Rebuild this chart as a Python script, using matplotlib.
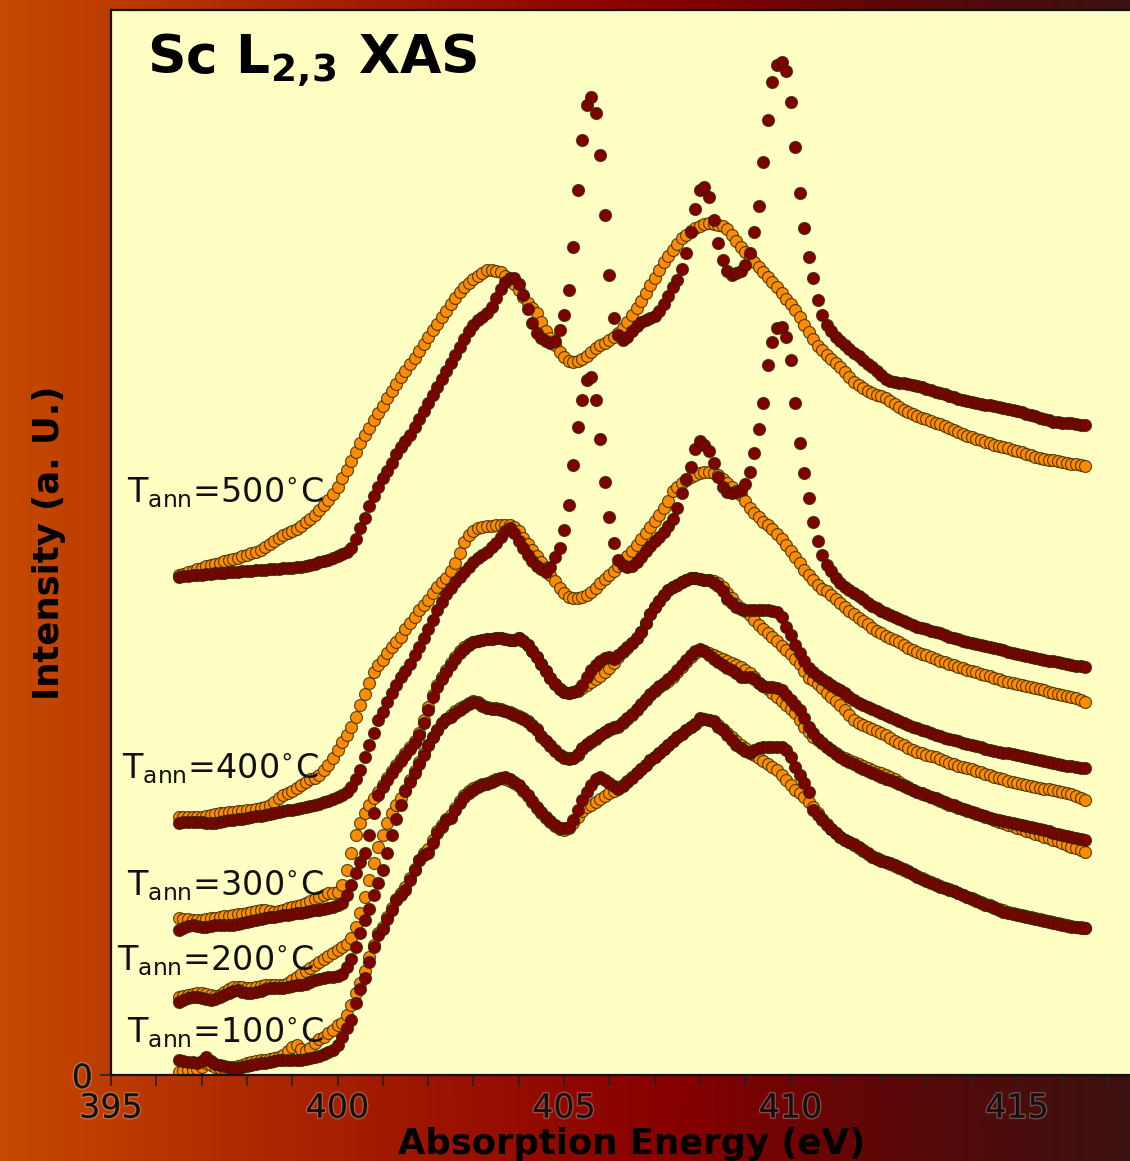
import numpy as np
import matplotlib
matplotlib.use("Agg")
import matplotlib.pyplot as plt
import matplotlib.patheffects as pe
from matplotlib.colors import LinearSegmentedColormap
from matplotlib.ticker import MultipleLocator, FixedLocator

plt.rcParams['mathtext.fontset'] = 'dejavusans'

# energy grid of the scans (eV)
energy = [
    396.5, 396.6, 396.7, 396.8, 396.9, 397.0, 397.1, 397.2, 397.3, 397.4,
    397.5, 397.6, 397.7, 397.8, 397.9, 398.0, 398.1, 398.2, 398.3, 398.4,
    398.5, 398.6, 398.7, 398.8, 398.9, 399.0, 399.1, 399.2, 399.3, 399.4,
    399.5, 399.6, 399.7, 399.8, 399.9, 400.0, 400.1, 400.2, 400.3, 400.4,
    400.5, 400.6, 400.7, 400.8, 400.9, 401.0, 401.1, 401.2, 401.3, 401.4,
    401.5, 401.6, 401.7, 401.8, 401.9, 402.0, 402.1, 402.2, 402.3, 402.4,
    402.5, 402.6, 402.7, 402.8, 402.9, 403.0, 403.1, 403.2, 403.3, 403.4,
    403.5, 403.6, 403.7, 403.8, 403.9, 404.0, 404.1, 404.2, 404.3, 404.4,
    404.5, 404.6, 404.7, 404.8, 404.9, 405.0, 405.1, 405.2, 405.3, 405.4,
    405.5, 405.6, 405.7, 405.8, 405.9, 406.0, 406.1, 406.2, 406.3, 406.4,
    406.5, 406.6, 406.7, 406.8, 406.9, 407.0, 407.1, 407.2, 407.3, 407.4,
    407.5, 407.6, 407.7, 407.8, 407.9, 408.0, 408.1, 408.2, 408.3, 408.4,
    408.5, 408.6, 408.7, 408.8, 408.9, 409.0, 409.1, 409.2, 409.3, 409.4,
    409.5, 409.6, 409.7, 409.8, 409.9, 410.0, 410.1, 410.2, 410.3, 410.4,
    410.5, 410.6, 410.7, 410.8, 410.9, 411.0, 411.1, 411.2, 411.3, 411.4,
    411.5, 411.6, 411.7, 411.8, 411.9, 412.0, 412.1, 412.2, 412.3, 412.4,
    412.5, 412.6, 412.7, 412.8, 412.9, 413.0, 413.1, 413.2, 413.3, 413.4,
    413.5, 413.6, 413.7, 413.8, 413.9, 414.0, 414.1, 414.2, 414.3, 414.4,
    414.5, 414.6, 414.7, 414.8, 414.9, 415.0, 415.1, 415.2, 415.3, 415.4,
    415.5, 415.6, 415.7, 415.8, 415.9, 416.0, 416.1, 416.2, 416.3, 416.4,
    416.5]

# intensities (a.u., already stacked with their offsets)
# T_ann = 500 C
o500 = [
    500, 501, 503, 504, 506, 507, 509, 510, 511, 512,
    514, 515, 516, 517, 519, 520, 522, 523, 525, 528,
    531, 534, 537, 540, 542, 544, 546, 549, 553, 556,
    560, 565, 570, 575, 581, 588, 597, 605, 614, 623,
    632, 640, 647, 655, 662, 669, 677, 684, 691, 698,
    704, 711, 717, 724, 731, 738, 745, 751, 758, 764,
    771, 777, 783, 788, 792, 796, 799, 802, 805, 805,
    804, 803, 799, 795, 791, 785, 778, 772, 767, 762,
    753, 744, 737, 730, 723, 718, 714, 713, 714, 716,
    719, 723, 727, 730, 732, 735, 738, 742, 747, 753,
    760, 767, 774, 782, 790, 797, 805, 813, 819, 825,
    831, 837, 840, 844, 847, 849, 851, 852, 851, 850,
    849, 846, 840, 834, 828, 823, 818, 813, 808, 803,
    798, 793, 788, 782, 776, 771, 765, 758, 750, 743,
    736, 729, 725, 720, 716, 712, 708, 703, 698, 693,
    690, 687, 684, 682, 680, 679, 677, 674, 671, 668,
    665, 663, 661, 659, 657, 656, 654, 652, 651, 649,
    647, 645, 643, 641, 639, 638, 636, 635, 633, 632,
    630, 629, 628, 627, 625, 624, 623, 621, 620, 618,
    617, 616, 615, 615, 614, 613, 612, 611, 611, 610,
    609]
d500 = [
    498, 499, 499, 500, 500, 500, 501, 501, 502, 502,
    502, 503, 503, 503, 504, 504, 504, 505, 505, 505,
    506, 506, 506, 507, 507, 507, 508, 508, 509, 510,
    511, 513, 514, 515, 517, 519, 521, 523, 527, 536,
    547, 557, 569, 579, 588, 597, 604, 612, 621, 628,
    634, 640, 648, 656, 664, 672, 680, 688, 696, 704,
    712, 720, 728, 736, 744, 750, 755, 758, 762, 768,
    777, 786, 793, 797, 797, 791, 780, 766, 752, 742,
    737, 734, 732, 734, 745, 760, 785, 828, 885, 935,
    970, 978, 962, 920, 860, 800, 757, 740, 735, 738,
    744, 749, 753, 755, 757, 759, 764, 771, 779, 788,
    795, 806, 822, 843, 866, 885, 888, 878, 855, 832,
    815, 804, 800, 802, 804, 810, 822, 843, 869, 913,
    955, 993, 1010, 1013, 1004, 973, 928, 882, 847, 818,
    797, 775, 760, 750, 744, 738, 734, 730, 726, 722,
    719, 715, 711, 708, 704, 700, 696, 694, 693, 692,
    692, 691, 690, 689, 688, 686, 685, 683, 682, 681,
    679, 678, 676, 675, 674, 673, 672, 671, 670, 670,
    669, 668, 667, 666, 665, 664, 663, 661, 660, 659,
    657, 656, 655, 653, 653, 652, 652, 652, 651, 650,
    650]

# T_ann = 400 C
o400 = [
    258, 258, 258, 258, 258, 258, 259, 260, 261, 262,
    262, 263, 263, 264, 264, 265, 265, 266, 267, 268,
    270, 273, 277, 280, 282, 284, 287, 290, 293, 296,
    297, 300, 305, 310, 317, 325, 333, 340, 348, 358,
    370, 381, 392, 403, 410, 415, 422, 428, 433, 438,
    446, 452, 458, 465, 470, 475, 482, 488, 493, 497,
    504, 512, 522, 533, 540, 544, 547, 548, 549, 549,
    550, 550, 550, 550, 548, 544, 537, 531, 525, 519,
    513, 507, 500, 494, 487, 482, 478, 477, 477, 478,
    480, 483, 487, 492, 496, 500, 504, 509, 515, 519,
    524, 530, 536, 542, 548, 554, 560, 567, 574, 584,
    588, 592, 595, 598, 600, 602, 603, 603, 602, 600,
    596, 592, 588, 584, 580, 574, 567, 562, 558, 553,
    550, 546, 541, 536, 530, 524, 518, 512, 505, 500,
    495, 490, 486, 484, 480, 476, 472, 468, 464, 461,
    457, 454, 451, 447, 444, 442, 439, 437, 435, 433,
    430, 427, 425, 423, 421, 420, 418, 416, 414, 413,
    411, 410, 408, 407, 405, 404, 403, 401, 400, 399,
    397, 396, 394, 393, 392, 391, 390, 389, 388, 387,
    386, 385, 383, 382, 381, 380, 379, 378, 377, 375,
    373]
d400 = [
    252, 253, 253, 253, 253, 253, 252, 252, 252, 253,
    254, 255, 255, 256, 256, 257, 258, 259, 259, 260,
    261, 262, 263, 264, 265, 265, 266, 267, 268, 269,
    270, 271, 273, 274, 276, 278, 280, 283, 288, 296,
    305, 318, 330, 342, 355, 363, 373, 382, 390, 398,
    404, 411, 420, 428, 437, 446, 455, 465, 473, 481,
    487, 493, 498, 503, 508, 513, 517, 520, 523, 528,
    532, 538, 544, 547, 542, 534, 527, 520, 514, 509,
    506, 503, 508, 518, 527, 545, 570, 610, 648, 675,
    695, 698, 675, 636, 593, 558, 532, 515, 510, 508,
    509, 513, 518, 524, 529, 534, 538, 543, 549, 556,
    567, 582, 596, 608, 626, 634, 630, 624, 612, 598,
    588, 583, 582, 583, 585, 591, 603, 622, 646, 672,
    710, 733, 747, 748, 738, 715, 672, 632, 602, 577,
    553, 534, 520, 510, 504, 497, 492, 488, 485, 482,
    479, 476, 472, 469, 467, 464, 462, 460, 458, 456,
    454, 452, 450, 448, 447, 446, 444, 443, 442, 440,
    438, 437, 436, 434, 433, 432, 431, 430, 429, 428,
    427, 426, 425, 423, 422, 421, 420, 419, 418, 417,
    416, 415, 414, 414, 413, 412, 411, 410, 409, 409,
    408]

# T_ann = 300 C
o300 = [
    157, 156, 156, 155, 155, 155, 156, 157, 157, 158,
    159, 159, 160, 161, 161, 162, 163, 164, 165, 165,
    164, 163, 164, 165, 167, 168, 169, 170, 172, 174,
    176, 178, 180, 182, 182, 183, 190, 205, 222, 240,
    252, 262, 270, 277, 283, 290, 297, 304, 310, 316,
    322, 328, 334, 342, 355, 368, 380, 390, 398, 405,
    412, 418, 424, 428, 431, 433, 434, 435, 436, 436,
    437, 437, 436, 435, 435, 437, 434, 430, 424, 418,
    411, 404, 397, 391, 386, 383, 382, 383, 384, 387,
    390, 393, 396, 399, 403, 407, 412, 418, 423, 427,
    432, 437, 443, 452, 461, 468, 474, 480, 485, 488,
    490, 493, 495, 497, 497, 496, 495, 495, 494, 492,
    488, 482, 477, 471, 467, 464, 460, 455, 450, 446,
    442, 438, 434, 429, 425, 421, 416, 411, 404, 397,
    395, 391, 387, 382, 378, 374, 370, 365, 360, 355,
    352, 350, 348, 346, 344, 342, 340, 337, 334, 332,
    330, 327, 325, 323, 322, 320, 319, 318, 316, 314,
    312, 311, 309, 308, 307, 306, 304, 303, 301, 300,
    298, 297, 296, 294, 293, 292, 291, 290, 289, 288,
    287, 286, 286, 285, 284, 283, 282, 281, 279, 277,
    275]
d300 = [
    145, 147, 149, 150, 149, 148, 148, 149, 150, 150,
    150, 150, 150, 151, 152, 153, 154, 155, 156, 157,
    158, 158, 159, 160, 160, 161, 162, 162, 163, 164,
    165, 165, 166, 167, 168, 170, 172, 180, 190, 202,
    213, 222, 240, 262, 280, 288, 295, 302, 308, 314,
    320, 326, 332, 340, 352, 365, 378, 388, 396, 403,
    410, 416, 422, 426, 430, 433, 434, 435, 436, 436,
    437, 437, 436, 435, 435, 437, 434, 430, 424, 418,
    411, 404, 397, 391, 386, 383, 382, 383, 385, 390,
    398, 405, 410, 414, 417, 418, 416, 420, 424, 428,
    432, 437, 443, 452, 461, 468, 474, 480, 485, 488,
    490, 493, 495, 497, 497, 496, 495, 495, 492, 489,
    484, 476, 472, 468, 466, 465, 465, 465, 465, 465,
    465, 464, 463, 458, 448, 440, 430, 422, 414, 407,
    403, 399, 396, 393, 390, 387, 385, 382, 378, 375,
    372, 370, 368, 366, 364, 362, 360, 358, 356, 354,
    352, 350, 348, 347, 345, 344, 342, 340, 339, 337,
    336, 335, 334, 332, 331, 330, 329, 328, 326, 325,
    324, 323, 322, 322, 321, 320, 319, 318, 317, 316,
    315, 314, 313, 312, 311, 310, 309, 309, 308, 307,
    307]

# T_ann = 200 C
o200 = [
    78, 79, 80, 81, 82, 82, 81, 80, 79, 80,
    83, 86, 88, 88, 88, 87, 87, 88, 89, 90,
    90, 90, 90, 90, 92, 95, 98, 101, 104, 107,
    110, 113, 116, 119, 122, 125, 128, 131, 137, 148,
    162, 178, 195, 212, 228, 240, 252, 262, 270, 277,
    285, 295, 304, 313, 322, 330, 338, 345, 352, 356,
    360, 364, 367, 369, 372, 374, 373, 370, 368, 367,
    367, 366, 364, 363, 361, 359, 357, 354, 350, 346,
    338, 334, 330, 325, 320, 318, 317, 317, 320, 326,
    330, 333, 336, 340, 343, 345, 347, 348, 352, 356,
    360, 365, 370, 375, 380, 384, 388, 391, 394, 398,
    403, 408, 413, 418, 422, 425, 424, 422, 420, 418,
    416, 414, 412, 410, 408, 405, 402, 398, 392, 389,
    386, 382, 378, 374, 370, 366, 362, 355, 348, 343,
    338, 335, 332, 328, 325, 322, 319, 317, 315, 313,
    311, 309, 307, 305, 303, 302, 300, 298, 296, 293,
    290, 288, 285, 283, 281, 280, 278, 276, 274, 272,
    270, 269, 267, 266, 264, 263, 261, 260, 258, 257,
    255, 253, 252, 250, 249, 247, 246, 244, 243, 241,
    240, 238, 237, 235, 234, 232, 230, 228, 227, 225,
    223]
d200 = [
    73, 75, 77, 78, 78, 77, 76, 75, 76, 78,
    80, 82, 84, 85, 83, 82, 82, 83, 84, 86,
    87, 87, 87, 87, 88, 89, 90, 90, 91, 93,
    95, 96, 97, 98, 98, 99, 101, 108, 116, 128,
    142, 155, 166, 180, 192, 205, 222, 240, 256, 270,
    284, 293, 302, 311, 320, 330, 338, 345, 352, 356,
    358, 362, 365, 368, 371, 373, 372, 369, 367, 366,
    366, 365, 364, 362, 360, 358, 356, 353, 349, 345,
    339, 334, 329, 324, 320, 317, 316, 317, 321, 327,
    331, 334, 337, 340, 343, 346, 348, 349, 353, 357,
    361, 366, 371, 376, 381, 385, 389, 392, 396, 400,
    405, 410, 415, 420, 424, 426, 424, 420, 416, 413,
    410, 407, 405, 402, 398, 398, 398, 396, 392, 389,
    388, 388, 387, 385, 380, 375, 370, 365, 357, 348,
    342, 336, 332, 328, 325, 321, 318, 315, 313, 311,
    308, 306, 304, 302, 300, 298, 296, 295, 293, 291,
    289, 287, 285, 283, 282, 280, 278, 277, 275, 273,
    271, 270, 268, 266, 265, 263, 262, 260, 259, 257,
    256, 255, 254, 253, 252, 251, 250, 249, 248, 247,
    246, 245, 244, 242, 241, 240, 239, 238, 237, 236,
    235]

# T_ann = 100 C
o100 = [
    3, 4, 5, 5, 6, 8, 12, 10, 8, 7,
    7, 7, 8, 9, 10, 12, 13, 14, 15, 15,
    16, 17, 18, 20, 24, 28, 30, 26, 24, 27,
    32, 36, 38, 42, 45, 50, 52, 60, 70, 82,
    92, 104, 118, 130, 142, 148, 158, 167, 176, 182,
    188, 197, 206, 215, 222, 226, 235, 244, 250, 256,
    260, 267, 274, 280, 284, 287, 289, 291, 292, 294,
    296, 297, 296, 294, 292, 289, 284, 279, 273, 267,
    262, 257, 253, 249, 246, 245, 247, 252, 258, 264,
    268, 270, 273, 276, 279, 282, 284, 287, 290, 294,
    298, 302, 306, 310, 315, 318, 322, 326, 330, 334,
    338, 341, 345, 348, 351, 355, 356, 355, 353, 350,
    346, 342, 338, 334, 330, 327, 323, 320, 317, 314,
    311, 308, 305, 300, 295, 290, 285, 282, 278, 273,
    268, 262, 256, 251, 246, 242, 238, 235, 233, 230,
    227, 224, 221, 219, 217, 215, 213, 211, 209, 207,
    205, 203, 201, 199, 197, 195, 193, 191, 189, 187,
    186, 184, 182, 180, 178, 177, 175, 173, 171, 170,
    168, 166, 165, 163, 162, 161, 160, 159, 158, 157,
    156, 155, 154, 153, 152, 151, 150, 149, 148, 148,
    147]
d100 = [
    15, 14, 13, 13, 12, 14, 18, 14, 11, 10,
    9, 8, 7, 7, 8, 9, 10, 11, 12, 12,
    13, 14, 15, 15, 15, 15, 15, 15, 16, 17,
    18, 19, 21, 23, 25, 30, 38, 47, 55, 72,
    86, 97, 113, 128, 140, 146, 156, 165, 175, 180,
    185, 195, 205, 215, 220, 222, 232, 242, 248, 255,
    257, 265, 272, 278, 282, 285, 288, 290, 291, 293,
    295, 297, 298, 296, 293, 290, 285, 280, 274, 268,
    263, 258, 254, 250, 247, 247, 248, 255, 265, 275,
    283, 290, 296, 298, 295, 292, 289, 286, 289, 293,
    297, 302, 306, 310, 315, 318, 322, 326, 330, 334,
    338, 341, 345, 348, 351, 357, 356, 355, 354, 348,
    345, 340, 335, 330, 327, 324, 322, 325, 327, 328,
    328, 328, 328, 328, 325, 318, 308, 300, 292, 283,
    265, 260, 255, 250, 246, 242, 238, 235, 233, 231,
    228, 225, 222, 218, 216, 214, 213, 212, 210, 208,
    206, 204, 201, 198, 196, 194, 192, 190, 188, 187,
    185, 184, 182, 180, 178, 176, 174, 172, 170, 169,
    167, 165, 163, 162, 161, 160, 159, 158, 157, 156,
    155, 154, 153, 152, 151, 150, 149, 148, 148, 147,
    147]

temps = ['500', '400', '300', '200', '100']
orange_sets = [o500, o400, o300, o200, o100]
red_sets = [d500, d400, d300, d200, d100]

for s in orange_sets + red_sets:
    assert len(s) == len(energy), len(s)

fig = plt.figure(figsize=(11.3, 11.61), dpi=100)

# background gradient
grad = LinearSegmentedColormap.from_list(
    'bg', ['#c64a00', '#b02c00', '#9a1200', '#860000', '#5a0808', '#3c1212'])
bg = fig.add_axes([0, 0, 1, 1], zorder=-10)
bg.imshow(np.linspace(0, 1, 512)[None, :], cmap=grad, aspect='auto',
          extent=[0, 1, 0, 1])
bg.set_axis_off()

ax = fig.add_axes([111 / 1130, 86 / 1161, 1042 / 1130, 1065 / 1161])
ax.set_facecolor('#ffffc4')

edge = (0.18, 0.14, 0.0, 0.75)
for o, d in zip(orange_sets, red_sets):
    ax.plot(energy, o, 'o', ms=8.6, mfc='#ff8c00', mec=edge, mew=0.9, ls='none')
    ax.plot(energy, d, 'o', ms=8.6, mfc='#800000', mec=edge, mew=0.9, ls='none')

# temperature labels
lab_x = [395.35, 395.24, 395.35, 395.13, 395.35]
lab_y = [573, 297, 180, 105, 33]
for t, x, y in zip(temps, lab_x, lab_y):
    ax.text(x, y, r'T$_{\mathrm{ann}}$=' + t + r'$^{\circ}$C', fontsize=24,
            color='#111111', va='baseline', ha='left')

ax.text(395.79, 1002, r'Sc L$_{\mathbf{2,\!3}}$ XAS', fontsize=38.5,
        fontweight='bold', va='baseline', ha='left')

ax.set_xlim(395, 418)
ax.set_ylim(0, 1065)
ax.xaxis.set_major_locator(MultipleLocator(5))
ax.xaxis.set_minor_locator(MultipleLocator(1))
ax.yaxis.set_major_locator(FixedLocator([0]))
ax.tick_params(axis='both', which='both', direction='out', length=8,
               width=1.2, color='#222222', labelsize=24, labelcolor='#111111')
ax.tick_params(axis='x', which='major', pad=4)
ax.tick_params(axis='y', which='major', pad=5)
for lab in ax.get_xticklabels() + ax.get_yticklabels():
    lab.set_path_effects([pe.withStroke(linewidth=2, foreground=(1, 1, 1, 0.25))])
for sp in ax.spines.values():
    sp.set_linewidth(1.6)
    sp.set_color('#111111')

ax.set_xlabel('Absorption Energy (eV)', fontsize=25.5, fontweight='bold',
              labelpad=2)
ax.set_ylabel('Intensity (a. U.)', fontsize=25.5, fontweight='bold',
              labelpad=4)

fig.savefig('out.png', dpi=100)
